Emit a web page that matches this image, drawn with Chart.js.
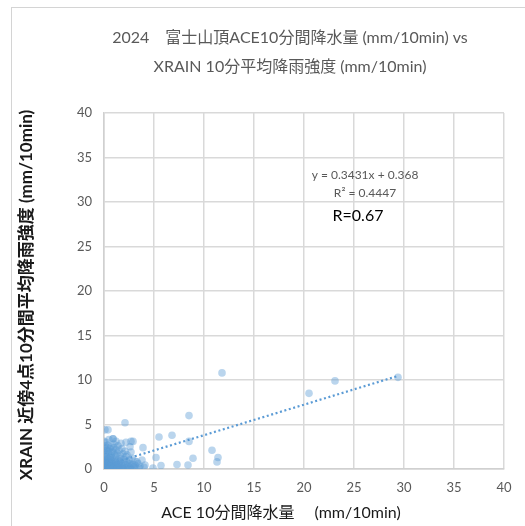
<!DOCTYPE html>
<html>
<head>
<meta charset="utf-8">
<script src="https://cdn.jsdelivr.net/npm/chart.js@4/dist/chart.umd.min.js"></script>
<style>
  html, body { margin: 0; padding: 0; background: #ffffff; }
  #wrap { position: relative; width: 525px; height: 526px; }
</style>
</head>
<body>
<div id="wrap"><canvas id="c" width="525" height="526"></canvas></div>
<script>
// ACE 10-minute precipitation (mm/10min) at the Fuji summit
const aceValues = [
  0, 0.1, 0.2, 0.3, 0.5, 0.4, 0.1, 0.2, 0.6, 0.8, 0.7, 0.9, 1.0, 1.2, 1.1, 1.4, 1.5, 1.7, 1.6, 1.9,
  2.0, 2.2, 2.4, 2.6, 2.8, 3.0, 3.2, 0.3, 0.5, 0.2, 0.7, 0.9, 1.1, 1.3, 1.5, 1.8, 2.1, 2.3, 2.6, 2.9,
  3.4, 0.1, 0.4, 0.6, 0.8, 1.0, 1.2, 1.4, 1.7, 2.0, 2.2, 2.5, 2.8, 3.1, 0.2, 0.5, 0.7, 0.9, 1.1, 1.3,
  1.6, 1.9, 2.3, 2.7, 0.0, 0.3, 0.6, 0.8, 1.0, 1.2, 1.5, 1.8, 2.1, 0.1, 0.4, 0.7, 1.0, 1.4, 1.7, 0.2,
  0.5, 0.9, 1.2, 0.0, 2.7, 2.2, 2.6, 3.9, 2.9, 3.3, 4.1, 4.9, 5.2, 5.7, 3.6, 3.8, 4.0,
  0.05, 0.15, 0.35, 0.45, 0.25, 0.55, 0.65, 0.75, 0.85, 0.95, 1.05, 1.25, 1.35, 0.3, 0.6, 0.15, 0.45,
  0.05, 0.35, 0.1, 0.0, 0.0, 0.0, 0.05, 0.5, 0.9, 1.3, 1.9, 2.4, 1.6, 2.0, 1.8, 2.4, 2.7, 3.1, 3.5,
  0.1, 0.4, 2.1, 0.9, 5.5, 6.8, 8.5, 8.5, 10.8, 11.4, 11.3, 8.9, 8.4, 7.3, 11.8, 20.5, 23.1, 29.4
];
// XRAIN 10-minute mean rainfall intensity from the 4 nearest cells (mm/10min)
const xrainValues = [
  0, 0, 0.1, 0, 0.1, 0.3, 0.2, 0.4, 0.2, 0.1, 0.4, 0.3, 0, 0.1, 0.3, 0.2, 0, 0.1, 0.4, 0.2,
  0, 0.1, 0.3, 0.1, 0, 0.2, 0.1, 0.6, 0.8, 0.9, 0.7, 0.6, 0.8, 0.5, 0.7, 0.6, 0.5, 0.8, 0.6, 0.5,
  0.6, 1.1, 1.2, 1.0, 1.3, 1.1, 1.4, 1.0, 1.2, 1.1, 1.4, 1.0, 1.2, 0.9, 1.6, 1.7, 1.5, 1.9, 1.6, 1.8,
  1.5, 1.7, 1.6, 1.9, 2.0, 2.1, 2.3, 2.0, 2.4, 2.2, 2.1, 2.3, 2.0, 2.6, 2.7, 2.5, 2.8, 2.6, 2.9, 3.0,
  3.3, 3.4, 3.1, 3.1, 3.1, 3.0, 2.5, 2.4, 3.1, 0.8, 0.45, 0.1, 1.3, 0.4, 0.3, 1.0, 0.2,
  0.05, 0.5, 0.25, 0.55, 0.75, 0.4, 0.05, 0.9, 0.45, 0.15, 0.55, 0.75, 0.3, 1.4, 1.3, 1.8, 2.0,
  2.3, 2.4, 0.7, 0.4, 1.4, 0.8, 1.0, 0.0, 0.05, 0.0, 0.0, 0.0, 0.9, 0.8, 0.35, 0.55, 0.35, 0.45, 0.1,
  4.4, 4.4, 5.2, 3.4, 3.6, 3.8, 6.0, 3.1, 2.1, 1.3, 0.8, 1.2, 0.45, 0.5, 10.8, 8.5, 9.9, 10.3
];

// Linear fit reported on the chart
const fitSlope = 0.3431;
const fitIntercept = 0.368;
const fitR2 = 0.4447;
const fitR = 0.67;
const fitRange = [0, 29.4];

const axisTicks = [0, 5, 10, 15, 20, 25, 30, 35, 40];

const titleLines = [
  '2024\u3000富士山頂ACE10分間降水量 (mm/10min) vs',
  'XRAIN 10分平均降雨強度 (mm/10min)'
];
const xTitle = 'ACE 10分間降水量\u3000 (mm/10min)';
const yTitle = 'XRAIN 近傍4点10分間平均降雨強度 (mm/10min)';

const FONT = 'Lato, "Noto Sans CJK JP", sans-serif';

const points = aceValues.map((x, i) => ({ x: x, y: xrainValues[i] }));
const fitLine = fitRange.map(x => ({ x: x, y: fitSlope * x + fitIntercept }));

const decor = {
  id: 'decor',
  beforeDraw(chart) {
    const ctx = chart.ctx;
    ctx.save();
    ctx.strokeStyle = '#d4d4d4';
    ctx.lineWidth = 1;
    ctx.strokeRect(11.5, 7.5, 700, 700);
    ctx.restore();
  },
  afterDraw(chart) {
    const ctx = chart.ctx;
    const xs = chart.scales.x, ys = chart.scales.y;
    const area = chart.chartArea;
    ctx.save();
    ctx.textAlign = 'center';
    ctx.textBaseline = 'middle';
    // chart title
    ctx.fillStyle = '#595959';
    ctx.font = '16px ' + FONT;
    ctx.fillText(titleLines[0], 290, 38);
    ctx.fillText(titleLines[1], 290, 67);
    // x axis title
    ctx.fillStyle = '#1a1a1a';
    ctx.font = '16px ' + FONT;
    ctx.fillText(xTitle, 281, 513);
    // y axis title
    ctx.save();
    ctx.translate(27, 295);
    ctx.rotate(-Math.PI / 2);
    ctx.font = 'bold 17px ' + FONT;
    ctx.fillText(yTitle, 0, 0);
    ctx.restore();
    // fit equation
    const ax = xs.getPixelForValue(26.1);
    ctx.fillStyle = '#595959';
    ctx.font = '12px ' + FONT;
    ctx.fillText('y = ' + fitSlope + 'x + ' + fitIntercept, ax, ys.getPixelForValue(33.0));
    ctx.fillText('R\u00b2 = ' + fitR2, ax, ys.getPixelForValue(31.0));
    ctx.fillStyle = '#000000';
    ctx.font = '16px ' + FONT;
    ctx.fillText('R=' + fitR, xs.getPixelForValue(25.4), ys.getPixelForValue(28.4));
    ctx.restore();
  }
};

new Chart(document.getElementById('c'), {
  type: 'scatter',
  data: {
    datasets: [
      {
        label: 'data',
        data: points,
        backgroundColor: 'rgba(91,155,213,0.42)',
        borderWidth: 0,
        pointRadius: 3.8,
        pointHoverRadius: 3.8,
        order: 2
      },
      {
        label: 'fit',
        type: 'line',
        data: fitLine,
        borderColor: '#5b9bd5',
        borderWidth: 2.2,
        borderDash: [2, 2.6],
        pointRadius: 0,
        fill: false,
        order: 1
      }
    ]
  },
  options: {
    responsive: false,
    animation: false,
    events: [],
    layout: { padding: { top: 113, right: 21, left: 0, bottom: 0 } },
    plugins: { legend: { display: false }, tooltip: { enabled: false }, title: { display: false } },
    scales: {
      x: {
        type: 'linear', min: 0, max: 40,
        afterBuildTicks(s) { s.ticks = axisTicks.map(v => ({ value: v })); },
        afterFit(s) { s.height = 57; },
        grid: { color: '#d9d9d9', lineWidth: 1.5, drawTicks: false },
        border: { color: '#d0d0d0', width: 1.5 },
        ticks: { color: '#595959', font: { family: FONT, size: 13 }, padding: 11, maxRotation: 0 }
      },
      y: {
        type: 'linear', min: 0, max: 40,
        afterBuildTicks(s) { s.ticks = axisTicks.map(v => ({ value: v })); },
        afterFit(s) { s.width = 104; },
        grid: { color: '#d9d9d9', lineWidth: 1.5, drawTicks: false },
        border: { color: '#d0d0d0', width: 1.5 },
        ticks: { color: '#595959', font: { family: FONT, size: 13 }, padding: 12 }
      }
    }
  },
  plugins: [decor]
});
</script>
</body>
</html>
